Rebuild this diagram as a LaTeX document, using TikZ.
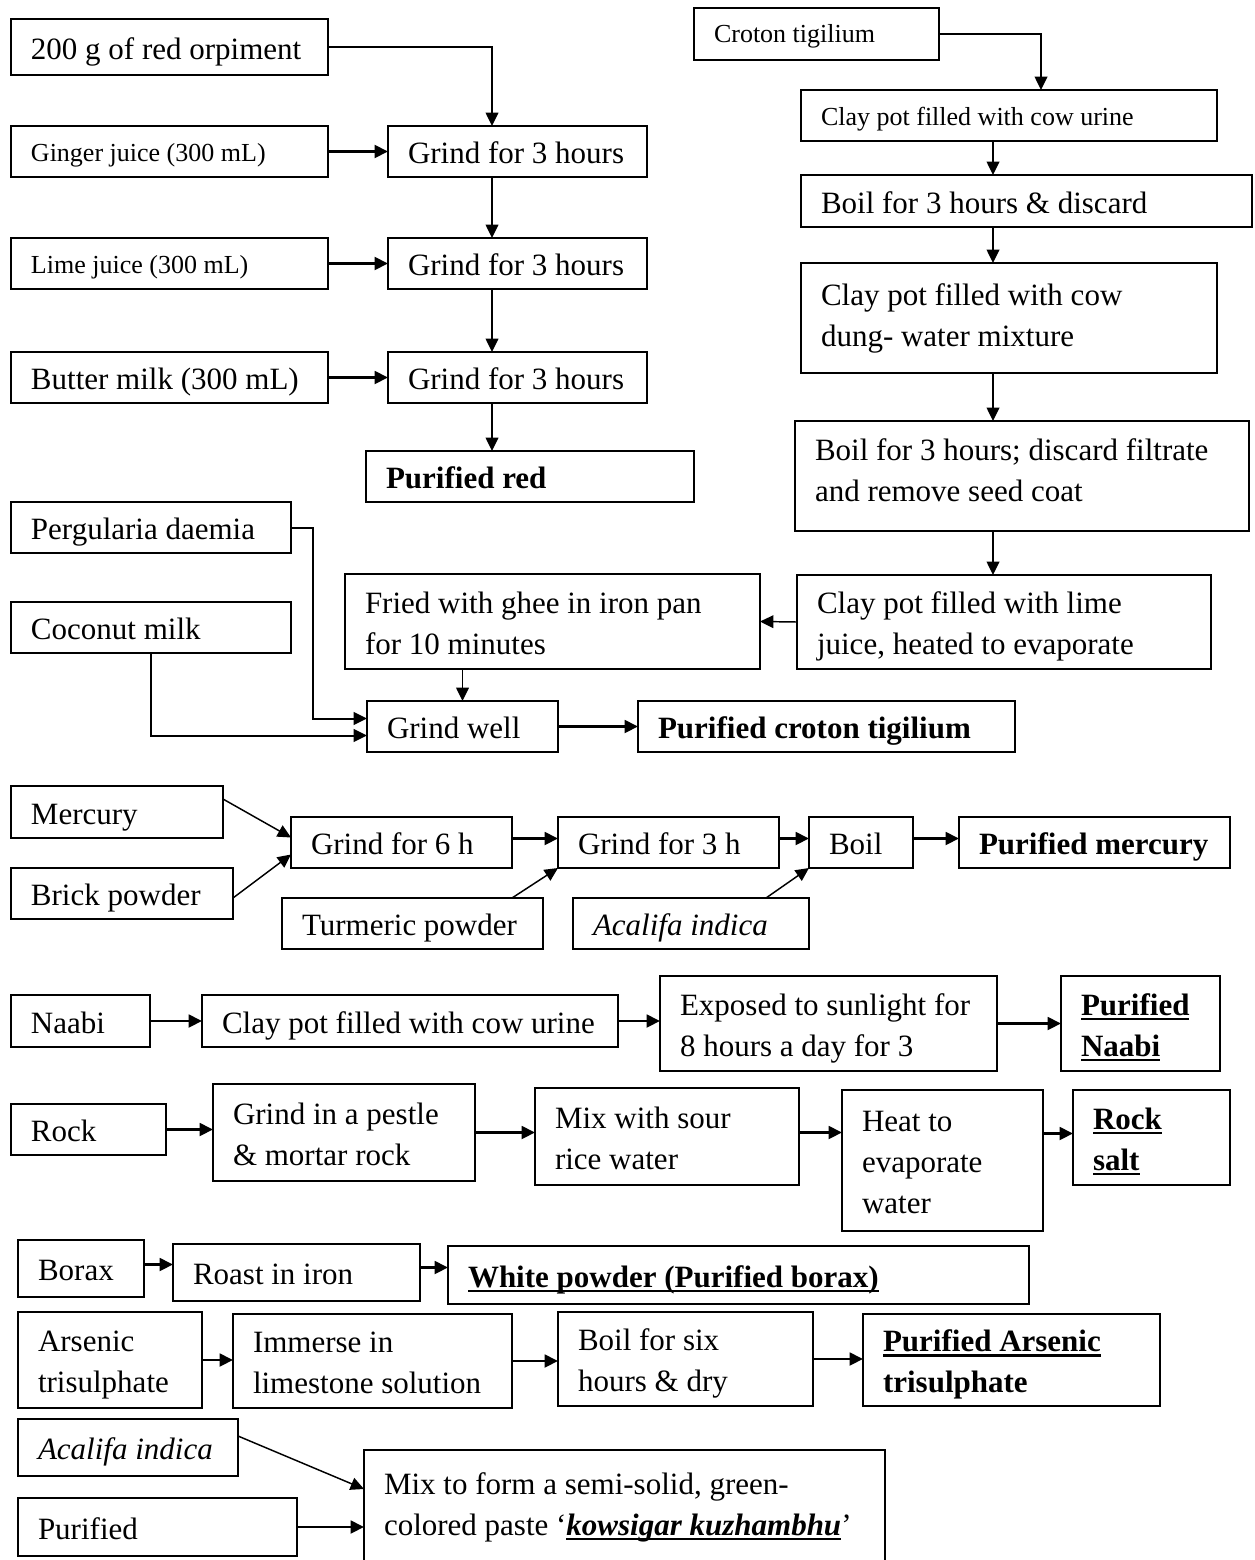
\documentclass[tikz,border=0pt]{standalone}
\usepackage{fontspec}
\setmainfont{Liberation Serif}
\usetikzlibrary{arrows.meta,calc}
\newsavebox\ulbox
\newcommand{\ulx}[1]{\sbox\ulbox{#1}\rlap{\rule[-3.8pt]{\wd\ulbox}{1.9pt}}\usebox\ulbox}
\newcommand{\bxdown}{6pt}
% \bx[options]{name}{x1}{y1}{x2}{y2}{text}  (pixel coordinates, y downwards)
\newcommand{\bx}[7][]{%
  \pgfmathsetmacro{\bxw}{(#5-#3)*0.75}%
  \pgfmathsetmacro{\bxh}{(#6-#4)*0.75}%
  \pgfmathsetmacro{\bxt}{(#5-#3-40)*0.75}%
  \node[box,minimum width=\bxw pt,minimum height=\bxh pt,#1] (#2) at ({(#3+#5)/2},{(#4+#6)/2})
    {\raisebox{0pt}[\dimexpr\height+\bxdown\relax][\depth]{\makebox[\bxt pt][l]{\begin{tabular}{@{}l@{}}#7\end{tabular}}}};}
\tikzset{
  tdown/.store in=\bxdown,
  box/.style={draw, line width=1.1pt, inner xsep=15pt, inner ysep=0pt, outer sep=0pt,
              font=\fontsize{23.25}{30.75}\selectfont, tdown=6pt},
  sm/.style={font=\fontsize{19.5}{24}\selectfont},
  bfb/.style={font=\fontsize{23.25}{30.75}\selectfont\bfseries},
  arr/.style={draw, line width=1.1pt, -{Triangle[length=10pt,width=9.5pt]}},
  tarr/.style={arr, line width=2.1pt},
}
\begin{document}
\begin{tikzpicture}[x=0.75pt,y=-0.75pt]
\fill[white] (0,0) rectangle (1254,1560);
\useasboundingbox (0,0) rectangle (1254,1560);

% ---- red orpiment
\bx{A1}{11}{19}{328}{75}{200 g of red orpiment}
\bx[sm]{Gi}{11}{126}{328}{177}{Ginger juice (300 mL)}
\bx{G1}{388}{126}{647}{177}{Grind for 3 hours}
\bx[sm]{Li}{11}{238}{328}{289}{Lime juice (300 mL)}
\bx{G2}{388}{238}{647}{289}{Grind for 3 hours}
\bx{Bu}{11}{352}{328}{403}{Butter milk (300 mL)}
\bx{G3}{388}{352}{647}{403}{Grind for 3 hours}
\bx[bfb]{PR}{366}{451}{694}{502}{Purified red}
\coordinate (colA) at (492,0);
\draw[arr] (A1.east) -| (colA |- G1.north);
\draw[tarr] (Gi.east) -- (G1.west);
\draw[arr] (colA |- G1.south) -- (colA |- G2.north);
\draw[tarr] (Li.east) -- (G2.west);
\draw[arr] (colA |- G2.south) -- (colA |- G3.north);
\draw[tarr] (Bu.east) -- (G3.west);
\draw[arr] (colA |- G3.south) -- (colA |- PR.north);

% ---- croton tigilium
\bx[sm,tdown=3pt]{CT}{694}{8}{939}{60}{Croton tigilium}
\bx[sm]{C1}{801}{90}{1217}{141}{Clay pot filled with cow urine}
\bx{C2}{801}{175}{1252}{227}{Boil for 3 hours \& discard}
\bx[tdown=0pt]{C3}{801}{263}{1217}{373}{Clay pot filled with cow\\dung- water mixture}
\bx[tdown=-4.5pt]{C4}{795}{421}{1249}{531}{Boil for 3 hours; discard filtrate\\and remove seed coat}
\bx{C5}{797}{575}{1211}{669}{Clay pot filled with lime\\juice, heated to evaporate}
\bx{FR}{345}{574}{760}{669}{Fried with ghee in iron pan\\for 10 minutes}
\bx{PD}{11}{502}{291}{553}{Pergularia daemia}
\bx{CM}{11}{602}{291}{653}{Coconut milk}
\bx{GW}{367}{701}{558}{752}{Grind well}
\bx[bfb]{PC}{638}{701}{1015}{752}{Purified croton tigilium}
\coordinate (colB) at (993,0);
\coordinate (colC) at (1041,0);
\coordinate (colD) at (313,0);
\draw[arr] (CT.east) -| (colC |- C1.north);
\draw[arr] (colB |- C1.south) -- (colB |- C2.north);
\draw[arr] (colB |- C2.south) -- (colB |- C3.north);
\draw[arr] (colB |- C3.south) -- (colB |- C4.north);
\draw[arr] (colB |- C4.south) -- (colB |- C5.north);
\draw[arr] (C5.west) -- (FR.east);
\draw[arr] (FR.south -| GW.north) -- (GW.north);
\coordinate (pdin) at ($(GW.west)+(0,-8)$);
\draw[arr, line width=1.5pt] (PD.east) -| (colD |- pdin) -- (pdin);
\draw[arr, line width=1.5pt] (CM.south) |- ($(GW.west)+(0,9)$);
\draw[tarr] (GW.east) -- (PC.west);

% ---- mercury
\bx{ME}{11}{786}{223}{838}{Mercury}
\bx{BR}{11}{868}{233}{919}{Brick powder}
\bx{G6}{291}{817}{512}{868}{Grind for 6 h}
\bx{G3h}{558}{817}{779}{868}{Grind for 3 h}
\bx{BO}{809}{817}{913}{868}{Boil}
\bx[bfb]{PM}{959}{817}{1230}{868}{Purified mercury}
\bx{TU}{282}{898}{543}{949}{Turmeric powder}
\bx{AC}{573}{898}{809}{949}{\textit{Acalifa indica}}
\draw[arr] ($(ME.north east)+(0,13)$) -- ($(G6.west)+(0,-5)$);
\draw[arr] ($(BR.north east)+(0,30)$) -- ($(G6.west)+(0,12)$);
\draw[tarr] ($(G6.east)+(0,-4)$) -- ($(G3h.west)+(0,-4)$);
\draw[tarr] ($(G3h.east)+(0,-4)$) -- ($(BO.west)+(0,-4)$);
\draw[tarr] ($(BO.east)+(0,-4)$) -- ($(PM.west)+(0,-4)$);
\draw[arr] ($(TU.north west)+(230,0)$) -- (G3h.south west);
\draw[arr] ($(AC.north west)+(193,0)$) -- (BO.south west);

% ---- Naabi
\bx{NA}{11}{995}{150}{1047}{Naabi}
\bx{N1}{202}{995}{618}{1047}{Clay pot filled with cow urine}
\bx{N2}{660}{976}{997}{1071}{Exposed to sunlight for\\8 hours a day for 3}
\bx[bfb]{PN}{1061}{976}{1220}{1071}{\ulx{Purified}\\\ulx{Naabi}}
\draw[tarr] (NA.east) -- (N1.west);
\draw[tarr] (N1.east) -- (N1.east -| N2.west);
\draw[tarr] (N2.east) -- (N2.east -| PN.west);

% ---- Rock salt
\bx{RO}{11}{1104}{166}{1155}{Rock}
\bx{RG}{213}{1084}{475}{1181}{Grind in a pestle\\\& mortar rock}
\bx{RM}{535}{1088}{799}{1185}{Mix with sour\\rice water}
\bx{RH}{842}{1090}{1043}{1231}{Heat to\\evaporate\\water}
\bx[bfb]{RS}{1073}{1090}{1230}{1185}{\ulx{Rock}\\\ulx{salt}}
\draw[tarr] (RO.east) -- (RO.east -| RG.west);
\draw[tarr] (RG.east) -- (RG.east -| RM.west);
\draw[tarr] ($(RM.east)+(0,-4)$) -- ($(RM.east -| RH.west)+(0,-4)$);
\draw[tarr] ($(RS.west -| RH.east)+(0,-4)$) -- ($(RS.west)+(0,-4)$);

% ---- Borax
\bx{BX}{18}{1240}{144}{1297}{Borax}
\bx{RI}{173}{1244}{420}{1301}{Roast in iron}
\bx[bfb]{WP}{448}{1246}{1029}{1304}{\ulx{White powder (Purified borax)}}
\draw[tarr] ($(BX.east)+(0,-4)$) -- ($(BX.east -| RI.west)+(0,-4)$);
\draw[tarr] ($(RI.east)+(0,-5)$) -- ($(RI.east -| WP.west)+(0,-5)$);

% ---- Arsenic
\bx{AS}{18}{1312}{202}{1408}{Arsenic\\trisulphate}
\bx{IM}{233}{1314}{512}{1408}{Immerse in\\limestone solution}
\bx{BS}{558}{1312}{813}{1406}{Boil for six\\hours \& dry}
\bx[bfb]{PA}{863}{1314}{1160}{1406}{\ulx{Purified Arsenic}\\trisulphate}
\draw[tarr] (AS.east) -- (AS.east -| IM.west);
\draw[tarr] (IM.east) -- (IM.east -| BS.west);
\draw[tarr] (BS.east) -- (BS.east -| PA.west);

% ---- kowsigar kuzhambhu
\bx{A2}{18}{1419}{238}{1476}{\textit{Acalifa indica}}
\bx{PU}{18}{1498}{297}{1556}{Purified}
\bx[tdown=0pt]{MX}{364}{1450}{885}{1563}{Mix to form a semi-solid, green-\\colored paste ‘\textbf{\textit{\ulx{kowsigar kuzhambhu}}}’}
\draw[arr] ($(A2.north east)+(0,17)$) -- ($(MX.north west)+(0,39)$);
\draw[tarr] (PU.east) -- (PU.east -| MX.west);
\end{tikzpicture}
\end{document}
